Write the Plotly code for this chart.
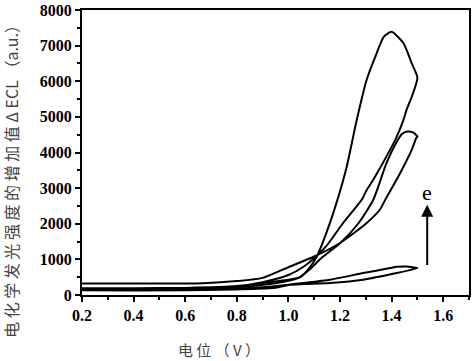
import plotly.graph_objects as go

# Large loop (curve e)
big_x = [0.2, 0.4, 0.6, 0.8, 0.9, 0.95, 1.0, 1.045, 1.08, 1.11, 1.15, 1.19, 1.226, 1.265, 1.303, 1.342, 1.37, 1.40, 1.446, 1.478, 1.5,
         1.48, 1.458, 1.446, 1.42, 1.394, 1.33, 1.304, 1.284, 1.21, 1.15, 1.11, 1.06, 1.0, 0.9, 0.8, 0.6, 0.4, 0.2]
big_y = [170, 170, 180, 250, 330, 380, 430, 500, 750, 1080, 1800, 2670, 3600, 4915, 6036, 6785, 7250, 7390, 7065, 6504, 6100,
         5600, 5195, 4917, 4446, 4073, 3250, 2953, 2672, 2000, 1400, 1100, 800, 560, 360, 250, 200, 190, 190]

# Middle loop
mid_x = [0.2, 0.5, 0.67, 0.8, 0.9, 1.0, 1.1, 1.2, 1.3, 1.355, 1.375, 1.433, 1.478, 1.495, 1.5,
         1.484, 1.46, 1.44, 1.42, 1.38, 1.329, 1.27, 1.2, 1.13, 1.08, 1.04, 0.95, 0.8, 0.6, 0.2]
mid_y = [320, 320, 330, 390, 480, 780, 1080, 1460, 2000, 2400, 2670, 3420, 4073, 4400, 4450,
         4560, 4590, 4520, 4300, 3700, 2672, 2000, 1450, 1050, 700, 480, 330, 220, 170, 150]

# Small loop
small_x = [0.2, 0.6, 0.9, 1.0, 1.161, 1.29, 1.394, 1.42, 1.458, 1.497, 1.5,
           1.42, 1.29, 1.161, 1.0, 0.95, 0.6, 0.2]
small_y = [130, 150, 220, 290, 429, 616, 756, 790, 800, 756, 750,
           616, 429, 336, 280, 200, 130, 130]

arrow_x = 1.538
arrow_y0 = 800
arrow_y1 = 2530
label_e_y = 2880

x_ticks = [0.2, 0.4, 0.6, 0.8, 1.0, 1.2, 1.4, 1.6]
x_ticklabels = ["0.2", "0.4", "0.6", "0.8", "1.0", "1.2", "1.4", "1.6"]
y_ticks = [0, 1000, 2000, 3000, 4000, 5000, 6000, 7000, 8000]

CJK = "Noto Sans CJK SC"
SERIF = "Times New Roman, Liberation Serif, serif"

W, H = 474, 361
L, R, T, B = 82, 5, 10, 66
pw, ph = W - L - R, H - T - B


def px_to_paper(px, py):
    return (px - L) / pw, 1 - (py - T) / ph


fig = go.Figure()
for xs, ys in [(small_x, small_y), (mid_x, mid_y), (big_x, big_y)]:
    fig.add_trace(go.Scatter(x=xs, y=ys, mode="lines",
                             line=dict(color="black", width=2, shape="spline", smoothing=0.6),
                             showlegend=False, hoverinfo="skip"))

fig.add_annotation(x=arrow_x, y=arrow_y1, ax=arrow_x, ay=arrow_y0, xref="x", yref="y",
                   axref="x", ayref="y", showarrow=True, arrowhead=2, arrowsize=1.2,
                   arrowwidth=2, arrowcolor="black", text="")
fig.add_annotation(x=arrow_x, y=label_e_y, xref="x", yref="y", text="e", showarrow=False,
                   font=dict(family=SERIF, size=22, color="black"))

yx, yy = px_to_paper(11, 178)
fig.add_annotation(x=yx, y=yy, xref="paper", yref="paper",
                   text="电 化 学 发 光 强 度 的 增 加 值 Δ ECL （a.u.）",
                   textangle=-90, showarrow=False, xanchor="center", yanchor="middle",
                   font=dict(family=CJK, size=16, color="#444"))
tx, ty = px_to_paper(219, 349)
fig.add_annotation(x=tx, y=ty, xref="paper", yref="paper", text="电 位 （ V ）",
                   showarrow=False, xanchor="center", yanchor="middle",
                   font=dict(family=CJK, size=15, color="#444"))

axis_common = dict(showline=True, linecolor="black", linewidth=2, mirror=True,
                   ticks="outside", tickcolor="black", tickwidth=2, ticklen=5,
                   showgrid=False, zeroline=False, automargin=False,
                   ticklabeloverflow="allow",
                   tickfont=dict(family=SERIF, size=16, color="black", weight="bold"))

fig.update_xaxes(range=[0.2, 1.7], tickvals=x_ticks, ticktext=x_ticklabels,
                 minor=dict(ticks="outside", dtick=0.1, ticklen=3, tickwidth=2, tickcolor="black"),
                 **axis_common)
fig.update_yaxes(range=[0, 8000], tickvals=y_ticks,
                 minor=dict(ticks="outside", dtick=500, ticklen=3, tickwidth=2, tickcolor="black"),
                 **axis_common)

fig.update_layout(width=W, height=H, margin=dict(l=L, r=R, t=T, b=B, autoexpand=False),
                  plot_bgcolor="white", paper_bgcolor="white")
fig.write_html("out.html", config={"displayModeBar": False},
               post_script="document.body.style.margin='0px';")
